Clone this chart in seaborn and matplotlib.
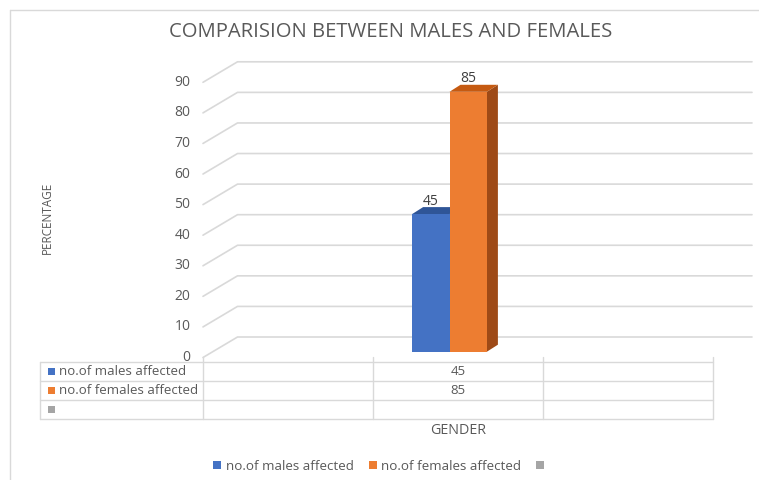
import matplotlib
matplotlib.use("Agg")
import matplotlib.pyplot as plt
import matplotlib.transforms as mtransforms
import numpy as np
import pandas as pd
import seaborn as sns
from matplotlib.lines import Line2D
from matplotlib.patches import Patch, Polygon, Rectangle

# chart data
title = "COMPARISION BETWEEN MALES AND FEMALES"
y_label = "PERCENTAGE"
x_label = "GENDER"
slots = ["left", "gender", "right"]
series_names = ["no.of males affected", "no.of females affected", ""]
males = [np.nan, 45, np.nan]
females = [np.nan, 85, np.nan]
y_ticks = [0, 10, 20, 30, 40, 50, 60, 70, 80, 90]

# styling
front_colors = ["#4472C4", "#ED7D31", "#A5A5A5"]
top_colors = ["#2F5597", "#C55A11"]
side_colors = ["#2B4C87", "#9E4A17"]
grid_color = "#D9D9D9"
text_color = "#595959"

sns.set_theme(style="white")
plt.rcParams["font.family"] = ["Open Sans", "DejaVu Sans"]

W, H = 759, 480
fig = plt.figure(figsize=(W / 100, H / 100), dpi=100)
fig.patch.set_facecolor("white")


def fx(x):
    return x / W


def fy(y):
    return 1 - y / H


def fig_line(x0, y0, x1, y1, **kw):
    fig.add_artist(Line2D([fx(x0), fx(x1)], [fy(y0), fy(y1)],
                          transform=fig.transFigure, color=grid_color, lw=1, **kw))


ax = fig.add_axes([fx(203), fy(357.5), (713 - 203) / W, (357.5 - 82.3) / H])

df = pd.DataFrame({
    "slot": slots * 2,
    "series": [series_names[0]] * 3 + [series_names[1]] * 3,
    "value": males + females,
}).dropna()

sns.barplot(data=df, x="slot", y="value", hue="series", order=slots,
            hue_order=series_names[:2], palette=front_colors[:2], width=0.44,
            saturation=1, legend=False, errorbar=None, ax=ax)

ax.set_xlim(-0.5, 2.5)
ax.set_ylim(0, 90)
ax.set_autoscale_on(False)
ax.set_yticks(y_ticks)
ax.set_xticks([])
ax.set_xlabel("")
ax.set_ylabel("")
ax.grid(False)
ax.patch.set_alpha(0)
for s in ax.spines.values():
    s.set_visible(False)
ax.tick_params(axis="y", length=0, pad=9, labelcolor=text_color, labelsize=10)
lift = mtransforms.ScaledTranslation(0, 2 / 100, fig.dpi_scale_trans)
for lab in ax.get_yticklabels():
    lab.set_transform(lab.get_transform() + lift)

ident = mtransforms.IdentityTransform()

# back wall gridlines with the 3D floor diagonals
wall_dx, wall_dy = 34.5, 20.5
for v in y_ticks:
    x0, y0 = ax.transData.transform((-0.5, v))
    ax.add_line(Line2D([x0, x0 + wall_dx, 752], [y0, y0 + wall_dy, y0 + wall_dy],
                       transform=ident, color=grid_color, lw=1.2, zorder=0.5,
                       clip_on=False))

# bars: shift into the 3D depth and add top/side faces
bar_dx, bar_dy = -8.5, 5.8
depth_dx, depth_dy = 11, 7
shift = mtransforms.ScaledTranslation(bar_dx / 100, bar_dy / 100, fig.dpi_scale_trans)
for i, bar in enumerate(ax.patches):
    bx, w, h = bar.get_x(), bar.get_width(), bar.get_height()
    px0, py0 = ax.transData.transform((bx, 0)) + np.array([bar_dx, bar_dy])
    px1, py1 = ax.transData.transform((bx + w, h)) + np.array([bar_dx, bar_dy])
    bar.set_transform(ax.transData + shift)
    bar.set_edgecolor("none")
    bar.set_zorder(2 + 2 * i)
    top = Polygon([(px0, py1), (px1, py1), (px1 + depth_dx, py1 + depth_dy),
                   (px0 + depth_dx, py1 + depth_dy)], closed=True, transform=ident,
                  facecolor=top_colors[i], edgecolor="none", zorder=1.9 + 2 * i,
                  clip_on=False)
    side = Polygon([(px1, py0), (px1 + depth_dx, py0 + depth_dy),
                    (px1 + depth_dx, py1 + depth_dy), (px1, py1)], closed=True,
                   transform=ident, facecolor=side_colors[i], edgecolor="none",
                   zorder=1.8 + 2 * i, clip_on=False)
    ax.add_patch(side)
    ax.add_patch(top)
    ax.annotate(f"{h:.0f}", xy=((px0 + px1) / 2, py1), xycoords="figure pixels",
                xytext=(0, 13), textcoords="offset pixels", ha="center",
                va="center", fontsize=10, color="#404040", zorder=10)

# data table under the plot
col_edges = [ax.transData.transform((e, 0))[0] for e in (-0.5, 0.5, 1.5, 2.5)]
row_edges = [361.5, 380.5, 399.5, 418.5]
for y in row_edges:
    fig_line(40, y, col_edges[-1], y)
fig_line(40, row_edges[0], 40, row_edges[-1])
for x in col_edges:
    fig_line(x, 357, x, row_edges[-1])

row_values = [males, females, [np.nan] * 3]
for r, (name, vals) in enumerate(zip(series_names, row_values)):
    yc = (row_edges[r] + row_edges[r + 1]) / 2 + 0.5
    fig.add_artist(Rectangle((fx(48), fy(yc + 3.5)), 7 / W, 7 / H,
                             transform=fig.transFigure, facecolor=front_colors[r],
                             edgecolor="none"))
    fig.text(fx(59), fy(yc), name, ha="left", va="center", fontsize=9.5,
             color=text_color)
    for k, v in enumerate(vals):
        if not np.isnan(v):
            xc = ax.transData.transform((k, 0))[0]
            fig.text(xc / W, fy(yc), f"{v:.0f}", ha="center", va="center",
                     fontsize=9.5, color=text_color)

# titles
fig.text(fx(391), fy(32), title, ha="center", va="center", fontsize=14.6,
         color=text_color)
fig.text(fx(458), fy(430), x_label, ha="center", va="center", fontsize=10.3,
         color=text_color)
fig.text(fx(47), fy(218), y_label, ha="center", va="center", rotation=90,
         fontsize=8.5, color=text_color)

# legend
handles = [Patch(facecolor=c, edgecolor="none") for c in front_colors]
fig.legend(handles=handles, labels=series_names, loc="center",
           bbox_to_anchor=(fx(381), fy(466)), ncol=3, frameon=False,
           handlelength=0.6, handleheight=0.6, handletextpad=0.35,
           columnspacing=1.1, fontsize=9.6, labelcolor=text_color)

# chart area border
fig_line(9.5, 9.5, W, 9.5)
fig_line(9.5, 9.5, 9.5, H)

fig.savefig("out.png", dpi=100)
